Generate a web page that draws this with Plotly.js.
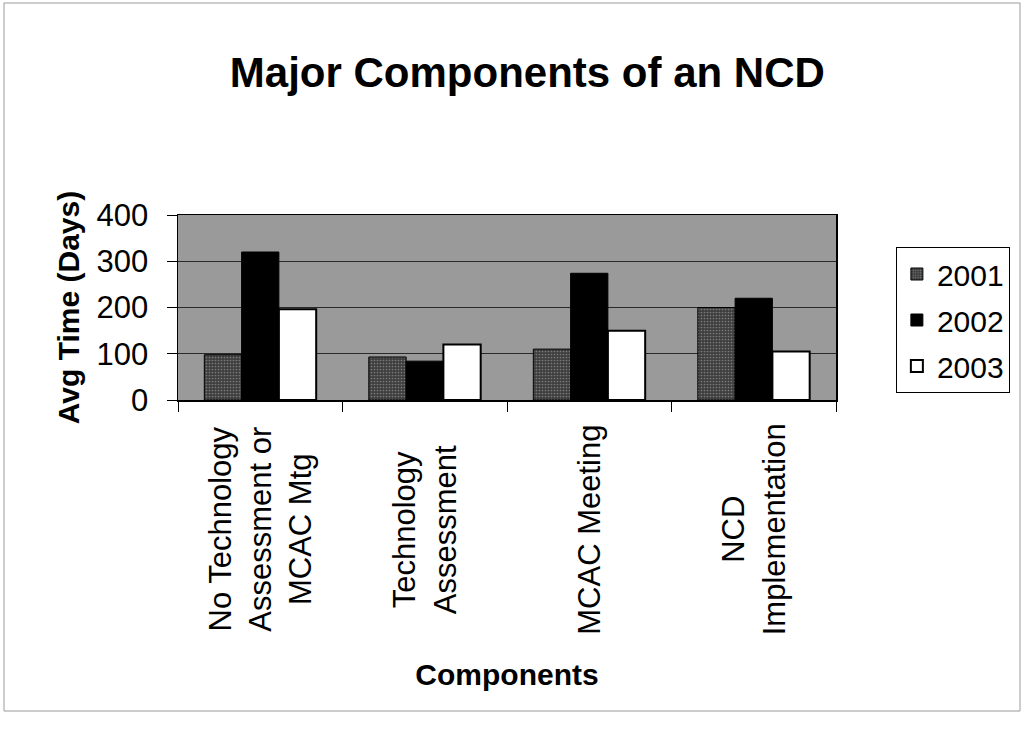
<!DOCTYPE html>
<html>
<head>
<meta charset="utf-8">
<script src="https://cdn.plot.ly/plotly-3.0.1.min.js"></script>
<style>html,body{margin:0;padding:0;background:#fff;}#chart{width:1024px;height:733px;}</style>
</head>
<body>
<div id="chart"></div>
<script>
const categories = ["No Technology Assessment or MCAC Mtg", "Technology Assessment", "MCAC Meeting", "NCD Implementation"];
const tickLabels = ["No Technology<br>Assessment or<br>MCAC Mtg", "Technology<br>Assessment", "MCAC Meeting", "NCD<br>Implementation"];
const seriesNames = ["2001", "2002", "2003"];
const values2001 = [98, 93, 110, 200];
const values2002 = [320, 84, 274, 220];
const values2003 = [196, 120, 150, 105];
const yTicks = [0, 100, 200, 300, 400];

const font = "Liberation Sans, Arial, sans-serif";

const traces = [
  {type: "bar", name: seriesNames[0], x: categories, y: values2001, legendgroup: "a",
   marker: {color: "#4a4a4a", line: {color: "#000", width: 1},
            pattern: {shape: ".", fgcolor: "#7c7c7c", bgcolor: "#3e3e3e", size: 3, solidity: 0.25}}},
  {type: "bar", name: seriesNames[1], x: categories, y: values2002, legendgroup: "b",
   marker: {color: "#000000", line: {color: "#000", width: 1}}},
  {type: "bar", name: seriesNames[2], x: categories, y: values2003, legendgroup: "c",
   marker: {color: "#ffffff", line: {color: "#000", width: 2}}}
];

const annotations = categories.map((c, i) => ({
  x: c, xref: "x", y: -0.70, yref: "paper",
  text: tickLabels[i], textangle: -90, showarrow: false,
  xanchor: "center", yanchor: "middle", align: "center",
  font: {family: font, size: 31, color: "#000"}
}));

const layout = {
  width: 1024, height: 733,
  paper_bgcolor: "#ffffff",
  plot_bgcolor: "#9a9a9a",
  margin: {l: 178, r: 188, t: 215, b: 333},
  title: {text: "<b>Major Components of an NCD</b>", x: 0.515, xref: "container", y: 0.902, yanchor: "middle",
          font: {family: font, size: 42, color: "#000"}},
  barmode: "group", bargap: 0.32, bargroupgap: 0,
  xaxis: {type: "category", showticklabels: false, ticks: "outside", tickson: "boundaries", ticklen: 10,
          tickcolor: "#000", showline: true, linecolor: "#000", linewidth: 1.5, mirror: true,
          showgrid: false, zeroline: false,
          title: {text: "<b>Components</b>", font: {family: font, size: 30, color: "#000"}, standoff: 263}},
  yaxis: {range: [0, 400], tickvals: yTicks, ticks: "outside", ticklen: 10, tickcolor: "#000",
          ticklabelstandoff: 12,
          tickfont: {family: font, size: 31, color: "#000"},
          showline: true, linecolor: "#000", linewidth: 1.5, mirror: true,
          showgrid: true, gridcolor: "#2a2a2a", gridwidth: 1, zeroline: false,
          title: {text: "<b>Avg Time (Days)</b>", font: {family: font, size: 30, color: "#000"}, standoff: 8}},
  legend: {x: 1.091, xanchor: "left", y: 0.827, yanchor: "top", bgcolor: "#ffffff",
           bordercolor: "#000", borderwidth: 1, traceorder: "grouped", tracegroupgap: 4,
           itemwidth: 30,
           font: {family: font, size: 30, color: "#000"}},
  annotations: annotations,
  shapes: [{type: "rect", xref: "paper", yref: "paper",
            x0: (4 - 178) / 658, x1: (1020 - 178) / 658, y0: (400 - 711) / 185, y1: (400 - 3) / 185,
            line: {color: "#9a9a9a", width: 1}, layer: "below"}],
  showlegend: true
};

Plotly.newPlot("chart", traces, layout, {displayModeBar: false, staticPlot: true});
</script>
</body>
</html>
